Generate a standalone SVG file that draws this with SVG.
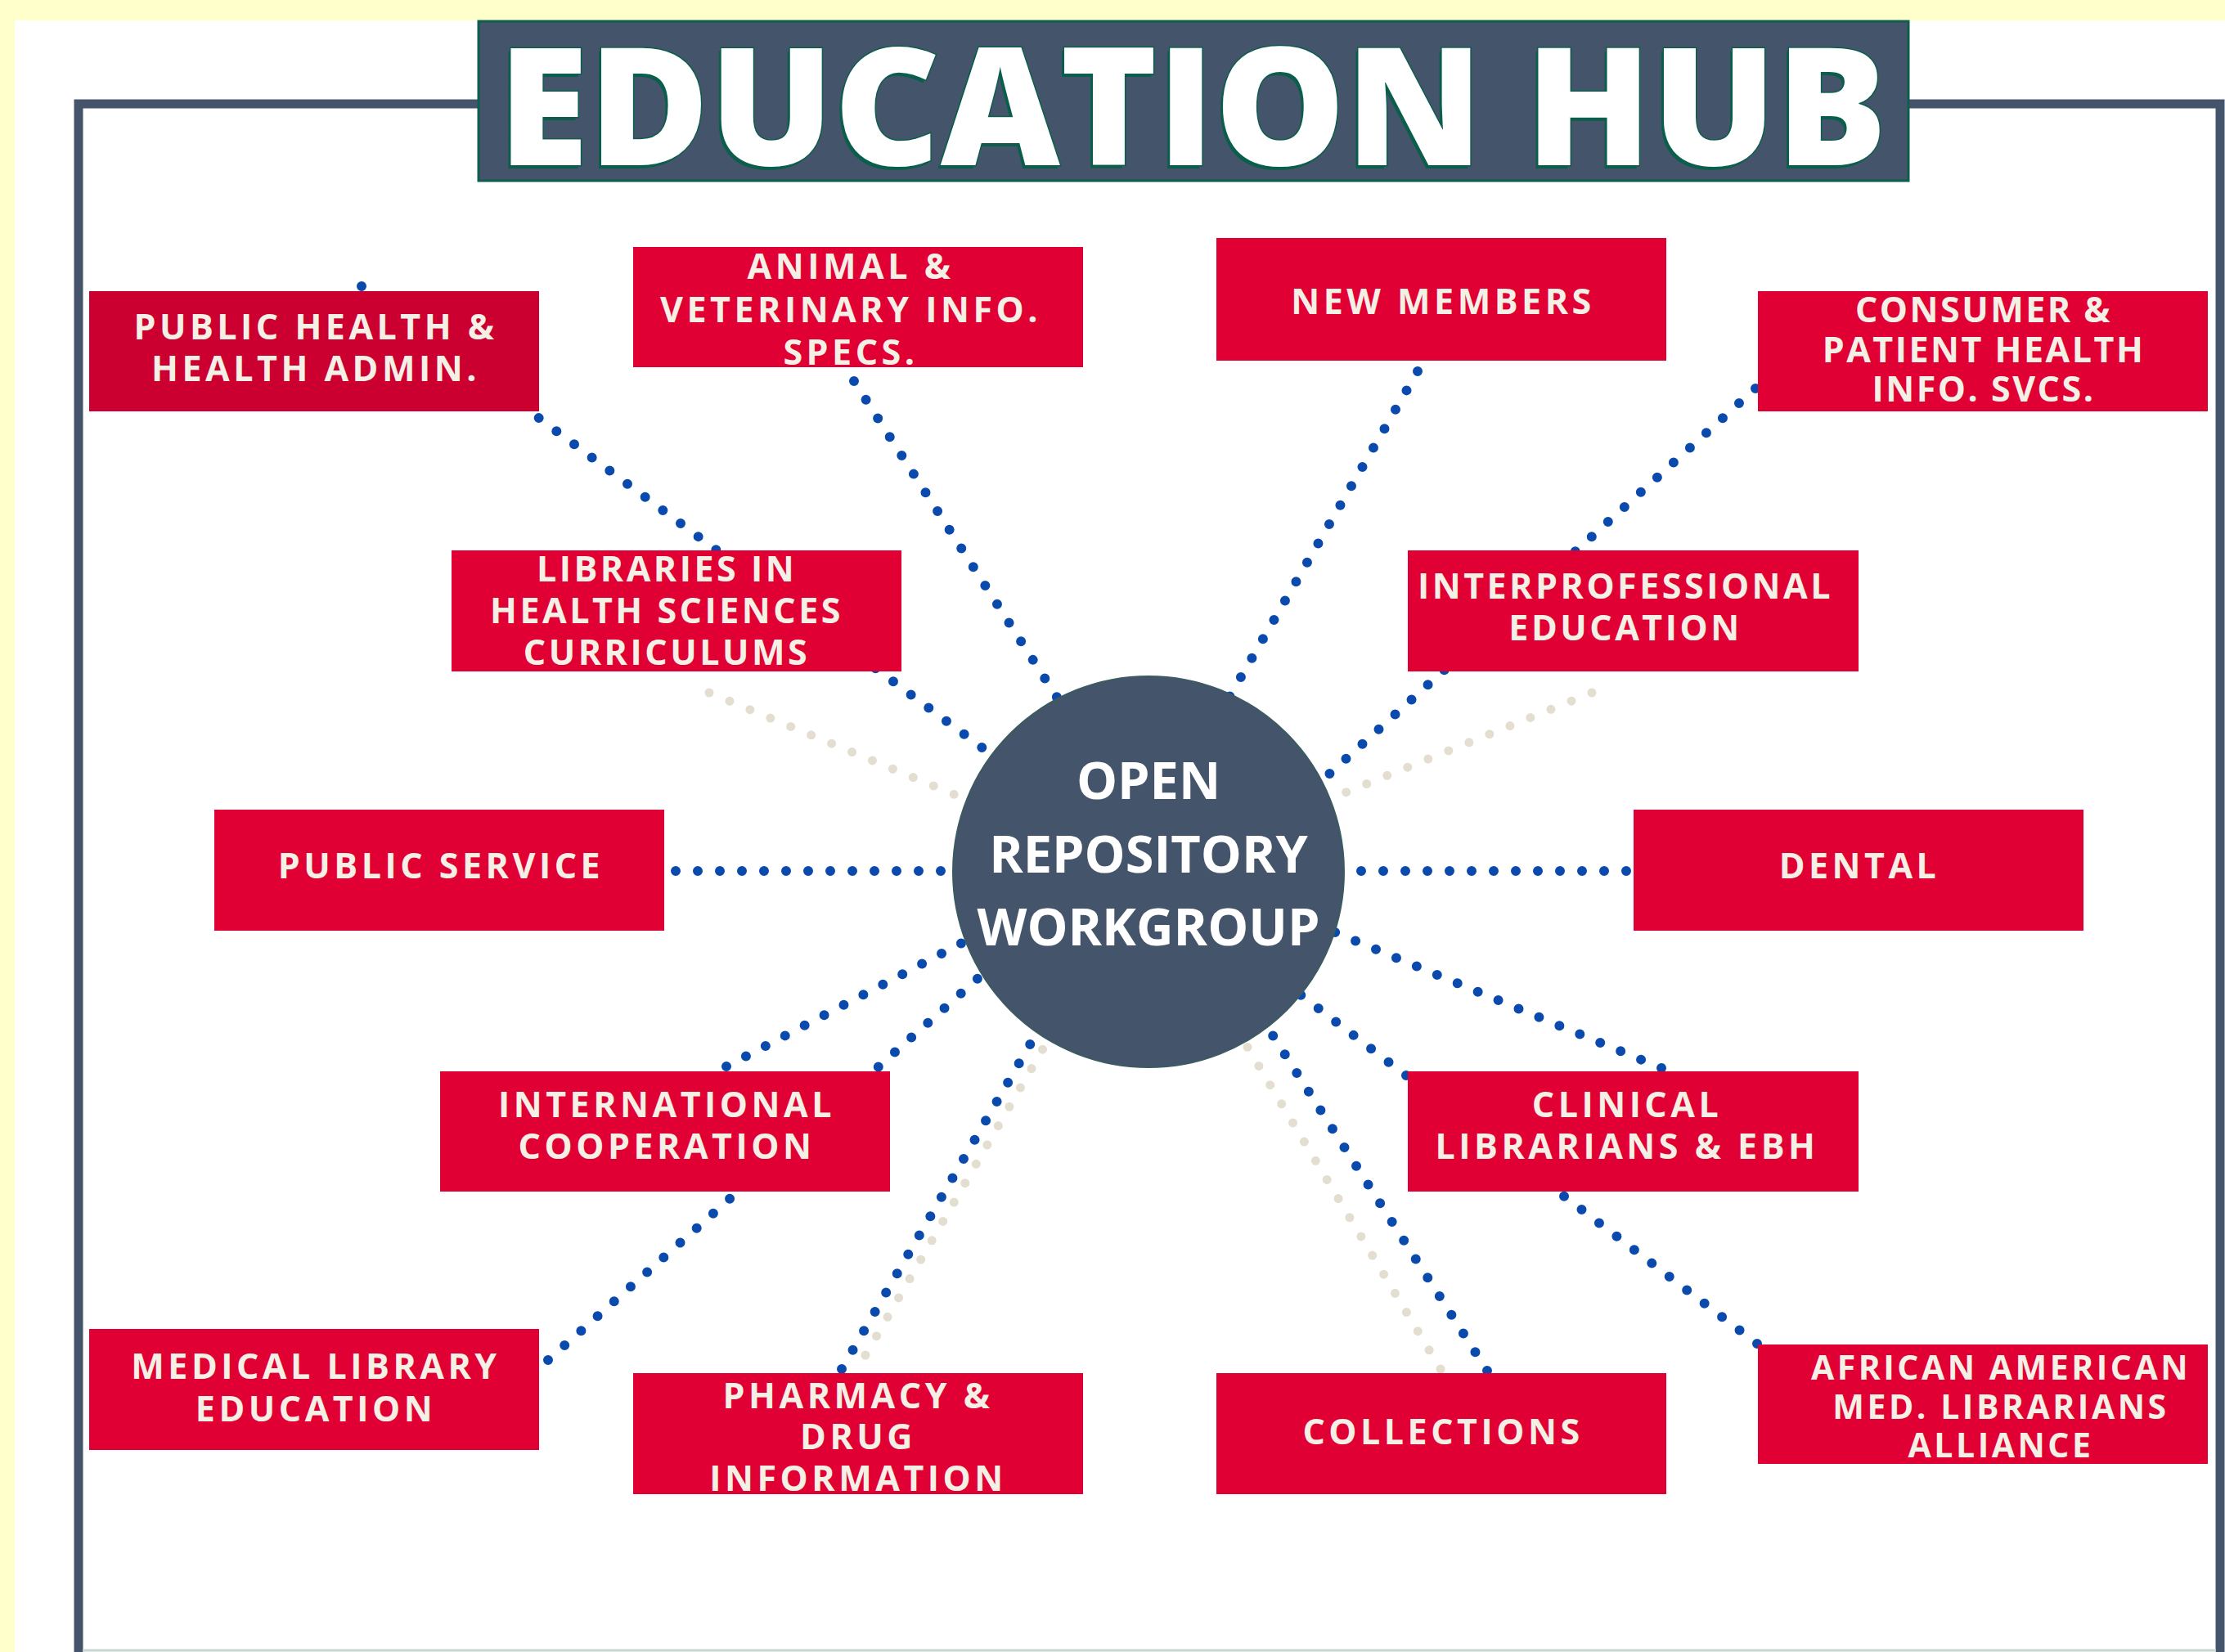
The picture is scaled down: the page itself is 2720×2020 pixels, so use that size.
<svg xmlns="http://www.w3.org/2000/svg" width="2720" height="2020" viewBox="0 0 2720 2020">
<style>
.box{fill:#E10034}
.lbl{font-family:"Open Sans","Liberation Sans",sans-serif;font-weight:700;font-size:43px;letter-spacing:4.5px;fill:#F4F0E6;text-anchor:middle}
.dot{stroke:#0A4AAD;stroke-width:12;stroke-linecap:round;stroke-dasharray:0 27;fill:none}
.ghost{stroke:#E4DED0;stroke-width:11;stroke-linecap:round;stroke-dasharray:0 27;fill:none}
.hub{font-family:"Open Sans","Liberation Sans",sans-serif;font-weight:700;font-size:63px;fill:#FFFFFF;text-anchor:middle}
.ttl{font-family:"Open Sans","Liberation Sans",sans-serif;font-weight:800;font-size:200px}
</style>
<rect x="0" y="0" width="2720" height="2020" fill="#FFFFCC"/>
<rect x="18" y="25" width="2702" height="1995" fill="#FFFFFF"/>
<rect x="96" y="127" width="2618" height="1905" fill="none" stroke="#44546A" stroke-width="11"/>
<line x1="101" y1="2018" x2="2709" y2="2018" stroke="#C9D5D1" stroke-width="3"/>
<g id="title">
<rect x="585" y="26" width="1748" height="195" fill="#44546A" stroke="#0E5E4E" stroke-width="3"/>
<text class="ttl" x="609" y="202" textLength="1698" lengthAdjust="spacingAndGlyphs" fill="#0B5E4C" transform="translate(-3,4)">EDUCATION HUB</text>
<text class="ttl" x="609" y="202" textLength="1698" lengthAdjust="spacingAndGlyphs" fill="#FFFFFF" stroke="#0B5E4C" stroke-width="3" paint-order="stroke">EDUCATION HUB</text>
</g>
<g id="connectors">
<line class="ghost" x1="867" y1="847" x2="1175" y2="975"/>
<line class="ghost" x1="1946" y1="847" x2="1630" y2="975"/>
<line class="ghost" x1="1058" y1="1657" x2="1285" y2="1265"/>
<line class="ghost" x1="1761" y1="1674" x2="1520" y2="1272"/>
<line class="dot" x1="442" y1="350" x2="1230" y2="936"/>
<line class="dot" x1="1044" y1="466" x2="1300" y2="865"/>
<line class="dot" x1="1733" y1="454" x2="1495" y2="866"/>
<line class="dot" x1="2146" y1="475" x2="1600" y2="969"/>
<line class="dot" x1="826" y1="1065" x2="1180" y2="1065"/>
<line class="dot" x1="1988" y1="1065" x2="1630" y2="1065"/>
<line class="dot" x1="888" y1="1304" x2="1195" y2="1143"/>
<line class="dot" x1="670" y1="1663" x2="1215" y2="1179"/>
<line class="dot" x1="1029" y1="1674" x2="1276" y2="1248"/>
<line class="dot" x1="2031" y1="1306" x2="1620" y2="1135"/>
<line class="dot" x1="2148" y1="1643" x2="1575" y2="1205"/>
<line class="dot" x1="1818" y1="1676" x2="1545" y2="1249"/>
</g>
<g id="hub">
<circle cx="1404" cy="1066" r="239" fill="#44546A" stroke="#3C5A62" stroke-width="2"/>
<text class="hub"><tspan x="1404" y="977">OPEN</tspan><tspan x="1404" y="1067">REPOSITORY</tspan><tspan x="1404" y="1156">WORKGROUP</tspan></text>
</g>
<g id="public-health">
<rect x="109" y="356" width="550" height="147" fill="#CC0030"/>
<text class="lbl"><tspan x="386" y="415">PUBLIC HEALTH &amp;</tspan><tspan x="386" y="466">HEALTH ADMIN.</tspan></text>
</g>
<g id="animal">
<rect class="box" x="774" y="302" width="550" height="147"/>
<text class="lbl"><tspan x="1040" y="341">ANIMAL &amp;</tspan><tspan x="1040" y="394">VETERINARY INFO.</tspan><tspan x="1040" y="446">SPECS.</tspan></text>
</g>
<g id="new-members">
<rect class="box" x="1487" y="291" width="550" height="150"/>
<text class="lbl"><tspan x="1764" y="384">NEW MEMBERS</tspan></text>
</g>
<g id="consumer">
<rect class="box" x="2149" y="356" width="550" height="147"/>
<text class="lbl" style="letter-spacing:2.5px"><tspan x="2425" y="394">CONSUMER &amp;</tspan><tspan x="2425" y="443">PATIENT HEALTH</tspan><tspan x="2425" y="491">INFO. SVCS.</tspan></text>
</g>
<g id="libraries">
<rect class="box" x="552" y="673" width="550" height="148"/>
<text class="lbl" style="letter-spacing:3.5px"><tspan x="815" y="711">LIBRARIES IN</tspan><tspan x="815" y="762">HEALTH SCIENCES</tspan><tspan x="815" y="813">CURRICULUMS</tspan></text>
</g>
<g id="interprofessional">
<rect class="box" x="1721" y="673" width="551" height="148"/>
<text class="lbl" style="letter-spacing:3.5px"><tspan x="1987" y="732">INTERPROFESSIONAL</tspan><tspan x="1987" y="783">EDUCATION</tspan></text>
</g>
<g id="public-service">
<rect class="box" x="262" y="990" width="550" height="148"/>
<text class="lbl"><tspan x="539" y="1074">PUBLIC SERVICE</tspan></text>
</g>
<g id="dental">
<rect class="box" x="1997" y="990" width="550" height="148"/>
<text class="lbl"><tspan x="2273" y="1074">DENTAL</tspan></text>
</g>
<g id="international">
<rect class="box" x="538" y="1310" width="550" height="147"/>
<text class="lbl"><tspan x="815" y="1366">INTERNATIONAL</tspan><tspan x="815" y="1417">COOPERATION</tspan></text>
</g>
<g id="clinical">
<rect class="box" x="1721" y="1310" width="551" height="147"/>
<text class="lbl"><tspan x="1989" y="1366">CLINICAL</tspan><tspan x="1989" y="1417">LIBRARIANS &amp; EBH</tspan></text>
</g>
<g id="medical-library">
<rect class="box" x="109" y="1625" width="550" height="148"/>
<text class="lbl"><tspan x="386" y="1686">MEDICAL LIBRARY</tspan><tspan x="386" y="1738">EDUCATION</tspan></text>
</g>
<g id="pharmacy">
<rect class="box" x="774" y="1679" width="550" height="148"/>
<text class="lbl"><tspan x="1049" y="1722">PHARMACY &amp;</tspan><tspan x="1049" y="1772">DRUG</tspan><tspan x="1049" y="1823">INFORMATION</tspan></text>
</g>
<g id="collections">
<rect class="box" x="1487" y="1679" width="550" height="148"/>
<text class="lbl"><tspan x="1764" y="1766">COLLECTIONS</tspan></text>
</g>
<g id="african-american">
<rect class="box" x="2149" y="1644" width="550" height="146"/>
<text class="lbl" style="font-size:41px;letter-spacing:3.5px"><tspan x="2446" y="1687">AFRICAN AMERICAN</tspan><tspan x="2446" y="1735">MED. LIBRARIANS</tspan><tspan x="2446" y="1782">ALLIANCE</tspan></text>
</g>
</svg>
